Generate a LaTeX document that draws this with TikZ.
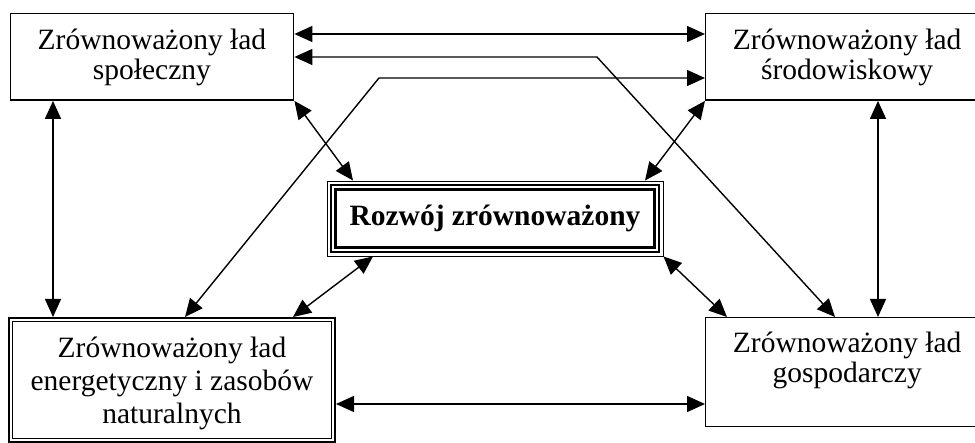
\documentclass[tikz,border=0pt]{standalone}
\usepackage{fontspec}
\setmainfont{Liberation Serif}
\usetikzlibrary{arrows.meta}
\begin{document}
\begin{tikzpicture}[x=1pt,y=-1pt,
  box/.style={draw, line width=1.4pt, inner sep=0pt, anchor=north west},
  lbl/.style={align=center, inner sep=0pt, font=\fontsize{29.5}{30}\selectfont},
  tip/.tip={Triangle[length=18pt,width=16pt]},
  both/.style={line width=1.4pt, tip-tip},
]
\path[use as bounding box, clip] (0,0) rectangle (975,443);

% the four component boxes
\node[box, minimum width=283.5pt, minimum height=86.5pt] (spol) at (9.5,13) {};
\node[box, minimum width=283pt, minimum height=86.5pt] (srod) at (705,13) {};
\node[box, minimum width=283pt, minimum height=109pt] (gosp) at (705,317) {};
\node[box, line width=2pt, minimum width=326pt, minimum height=124pt] (ener) at (8,317) {};
\draw[line width=1pt] ([shift={(4.5pt,-4.5pt)}]ener.north west) rectangle ([shift={(-4.5pt,4.5pt)}]ener.south east);

\node[lbl] (spolT) at (spol.center) {Zrównoważony ład\\społeczny};
\node[lbl] (srodT) at (srod.center) {Zrównoważony ład\\środowiskowy};
\node[lbl] (gospT) at ([yshift=11.5pt]gosp.center) {Zrównoważony ład\\gospodarczy};
\node[lbl, font=\fontsize{29.5}{33}\selectfont] (enerT) at ([yshift=-3pt]ener.center) {Zrównoważony ład\\energetyczny i zasobów\\naturalnych};

% central box with a triple frame
\node[draw, line width=0.9pt, minimum width=336pt, minimum height=75pt, inner sep=0pt,
      font=\fontsize{29.5}{30}\selectfont\bfseries] (rozw) at (495,218.5) {Rozwój zrównoważony};
\draw[line width=1.8pt] ([shift={(4.5pt,-4.5pt)}]rozw.north west) rectangle ([shift={(-4.5pt,4.5pt)}]rozw.south east);
\draw[line width=2.6pt] ([shift={(9pt,-9pt)}]rozw.north west) rectangle ([shift={(-9pt,9pt)}]rozw.south east);

% bends of the two crossing links
\coordinate (bendA) at (597,57);
\coordinate (bendB) at (379,78);

% links between the boxes
\draw[both] (spol.east |- 0,34) -- (srod.west |- 0,34);
\draw[both] (spol.east |- 0,57) -- (bendA) -- (835,0 |- gosp.north);
\draw[both] (185,0 |- ener.north) -- (bendB) -- (srod.west |- 0,78);
\draw[both] (53,0 |- spol.south) -- (53,0 |- ener.north);
\draw[both] (878,0 |- srod.south) -- (878,0 |- gosp.north);
\draw[both] (ener.east |- 0,404) -- (gosp.west |- 0,404);

% links to the central box
\draw[both] (spol.south east) -- (353,0 |- rozw.north);
\draw[both] (srod.south west) -- (645,0 |- rozw.north);
\draw[both] (373,0 |- rozw.south) -- (293,0 |- ener.north);
\draw[both] (rozw.south east) -- (727,0 |- gosp.north);
\end{tikzpicture}
\end{document}
